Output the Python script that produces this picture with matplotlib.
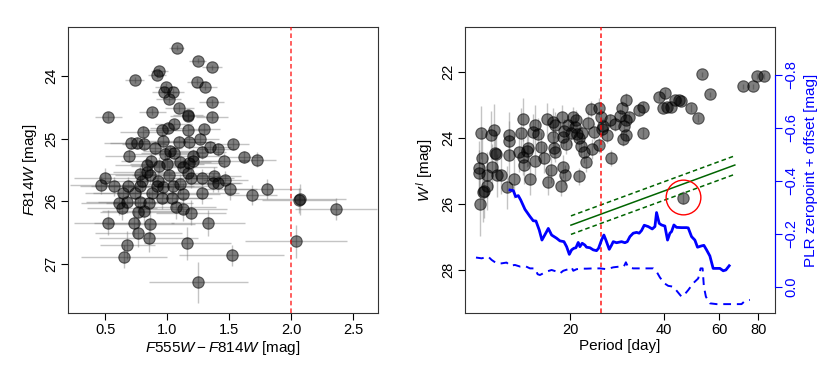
import numpy as np
import matplotlib
matplotlib.use("Agg")
import matplotlib.pyplot as plt
from matplotlib.ticker import NullLocator, FixedLocator, FixedFormatter

plt.rcParams["font.family"] = ["Liberation Sans", "DejaVu Sans"]
plt.rcParams["mathtext.fontset"] = "custom"
plt.rcParams["mathtext.it"] = "Liberation Sans:italic"
plt.rcParams["mathtext.rm"] = "Liberation Sans"

# --- left panel: colour-magnitude data ---
cmd_color = [1.078, 1.247, 1.363, 0.938, 0.917, 0.737, 1.239, 1.309, 0.989, 0.976,
             1.043, 1.013, 1.360, 0.879, 1.099, 1.169, 1.165, 0.524, 1.360, 1.054,
             1.005, 0.960, 1.298, 1.169, 0.801, 1.266, 0.970, 0.707, 0.817, 1.172,
             1.094, 1.527, 1.347, 1.406, 1.024, 1.051, 1.282, 0.696, 1.621, 1.728,
             1.462, 0.871, 0.836, 1.212, 1.172, 1.105, 0.997, 0.938, 0.782, 0.860,
             1.164, 1.016, 0.497, 1.379, 1.282, 1.194, 0.927, 1.470, 1.366, 0.465,
             0.573, 0.686, 0.777, 0.968, 1.048, 1.105, 1.406, 1.505, 1.806, 0.640,
             0.742, 0.876, 1.277, 1.685, 0.962, 1.126, 2.073, 2.065, 0.608, 0.677,
             0.782, 0.855, 0.637, 1.070, 1.126, 0.761, 0.817, 1.191, 2.360, 0.519,
             0.731, 0.863, 1.328, 0.766, 0.852, 1.161, 2.040, 0.680, 0.651, 1.519,
             1.250, 0.760, 0.985, 0.840, 0.920, 1.212, 1.130, 0.900, 1.040, 0.800]
cmd_mag = [23.55, 23.76, 23.86, 23.92, 23.99, 24.06, 24.09, 24.17, 24.17, 24.25,
           24.26, 24.37, 24.42, 24.57, 24.51, 24.63, 24.64, 24.65, 24.65, 24.77,
           24.83, 24.87, 24.84, 24.86, 24.89, 25.00, 25.04, 25.07, 25.08, 25.06,
           25.06, 25.09, 25.13, 25.17, 25.20, 25.23, 25.21, 25.27, 25.29, 25.34,
           25.35, 25.35, 25.42, 25.35, 25.39, 25.37, 25.40, 25.43, 25.56, 25.58,
           25.54, 25.58, 25.62, 25.59, 25.62, 25.63, 25.67, 25.66, 25.70, 25.74,
           25.76, 25.76, 25.75, 25.77, 25.76, 25.73, 25.70, 25.81, 25.80, 25.87,
           25.87, 25.87, 25.87, 25.90, 25.94, 25.88, 25.97, 25.98, 26.03, 26.01,
           26.01, 26.02, 26.10, 26.09, 26.12, 26.17, 26.16, 26.18, 26.12, 26.34,
           26.35, 26.36, 26.35, 26.50, 26.58, 26.67, 26.64, 26.70, 26.88, 26.86,
           27.29, 25.07, 25.24, 25.53, 25.76, 25.28, 25.46, 25.15, 25.95, 25.68]
cmd_xerr = [0.06, 0.07, 0.08, 0.07, 0.07, 0.08, 0.08, 0.09, 0.09, 0.10,
            0.09, 0.10, 0.10, 0.11, 0.12, 0.12, 0.14, 0.11, 0.13, 0.15,
            0.14, 0.15, 0.13, 0.16, 0.18, 0.15, 0.20, 0.22, 0.18, 0.21,
            0.24, 0.13, 0.17, 0.15, 0.22, 0.26, 0.19, 0.20, 0.14, 0.15,
            0.20, 0.24, 0.26, 0.22, 0.28, 0.25, 0.30, 0.23, 0.26, 0.28,
            0.25, 0.30, 0.25, 0.22, 0.26, 0.30, 0.24, 0.18, 0.22, 0.25,
            0.28, 0.30, 0.26, 0.32, 0.28, 0.26, 0.20, 0.22, 0.27, 0.30,
            0.34, 0.28, 0.30, 0.20, 0.32, 0.30, 0.37, 0.30, 0.30, 0.33,
            0.34, 0.35, 0.28, 0.32, 0.36, 0.30, 0.34, 0.28, 0.33, 0.27,
            0.32, 0.36, 0.30, 0.35, 0.40, 0.35, 0.41, 0.22, 0.35, 0.42,
            0.40, 0.22, 0.25, 0.28, 0.30, 0.24, 0.27, 0.22, 0.32, 0.29]
cmd_yerr = [0.04, 0.04, 0.04, 0.05, 0.05, 0.05, 0.05, 0.05, 0.05, 0.06,
            0.06, 0.06, 0.06, 0.06, 0.07, 0.07, 0.07, 0.07, 0.07, 0.08,
            0.08, 0.08, 0.08, 0.09, 0.09, 0.09, 0.09, 0.10, 0.10, 0.10,
            0.10, 0.09, 0.10, 0.10, 0.10, 0.11, 0.11, 0.11, 0.10, 0.12,
            0.12, 0.12, 0.12, 0.13, 0.13, 0.13, 0.13, 0.13, 0.14, 0.14,
            0.14, 0.14, 0.15, 0.14, 0.14, 0.15, 0.15, 0.14, 0.15, 0.15,
            0.15, 0.15, 0.16, 0.16, 0.16, 0.16, 0.15, 0.17, 0.16, 0.17,
            0.17, 0.17, 0.17, 0.16, 0.18, 0.17, 0.24, 0.20, 0.18, 0.18,
            0.18, 0.19, 0.19, 0.19, 0.20, 0.20, 0.20, 0.20, 0.18, 0.20,
            0.21, 0.21, 0.21, 0.22, 0.23, 0.26, 0.26, 0.22, 0.18, 0.17,
            0.33, 0.10, 0.11, 0.14, 0.15, 0.12, 0.13, 0.11, 0.17, 0.15]

# --- right panel: period-Wesenheit data ---
period = [10.28, 10.47, 10.62, 10.84, 10.23, 10.19, 10.42, 10.35, 10.84, 11.14,
          11.43, 11.48, 11.56, 11.27, 11.67, 11.97, 12.56, 12.76, 12.74, 12.74,
          13.24, 13.71, 13.87, 14.16, 14.09, 14.26, 14.59, 14.69, 14.89, 15.24,
          15.42, 15.42, 15.74, 16.11, 16.52, 16.79, 17.02, 17.30, 17.66, 17.66,
          17.74, 17.82, 18.75, 18.92, 18.97, 18.62, 19.05, 19.32, 19.72, 20.18,
          20.46, 20.80, 21.33, 21.63, 21.88, 22.39, 22.86, 23.39, 23.50, 23.88,
          24.72, 24.72, 25.06, 25.47, 26.30, 26.79, 26.98, 27.80, 28.84, 29.38,
          29.51, 29.79, 30.13, 30.27, 30.13, 30.90, 33.27, 34.28, 34.28, 38.55,
          40.18, 39.72, 40.83, 42.07, 43.25, 44.67, 45.19, 48.87, 51.40, 52.72,
          55.98, 71.61, 77.09, 79.43, 83.37, 46.0,
          25.2, 22.1, 17.88, 20.7, 21.0, 19.2, 21.4]
wes = [26.02, 25.66, 25.62, 25.45, 25.08, 24.91, 24.63, 23.85, 25.14, 23.93,
       23.78, 24.47, 24.51, 24.88, 25.14, 25.12, 25.50, 23.91, 24.09, 24.53,
       25.24, 24.44, 23.85, 23.44, 24.58, 24.84, 24.39, 24.31, 25.24, 23.84,
       23.62, 24.72, 23.90, 24.29, 24.63, 23.44, 25.33, 24.98, 23.54, 23.99,
       24.30, 24.45, 23.36, 23.99, 24.88, 25.46, 23.80, 24.20, 23.62, 23.87,
       23.36, 23.46, 25.17, 24.25, 23.85, 24.74, 23.55, 23.14, 24.35, 23.82,
       23.09, 24.22, 23.39, 23.66, 23.92, 23.48, 24.62, 23.59, 23.33, 23.09,
       24.05, 23.64, 23.46, 22.86, 23.92, 23.36, 23.16, 23.08, 23.85, 22.78,
       22.64, 23.11, 23.08, 23.08, 22.86, 22.86, 22.88, 23.10, 23.41, 22.08,
       22.69, 22.45, 22.45, 22.13, 22.13, 25.82,
       23.73, 24.42, 23.62, 23.67, 23.88, 25.13, 24.0]
wes_err = [0.95, 0.90, 0.80, 0.75, 0.70, 0.80, 0.85, 0.80, 0.70, 0.75,
           0.80, 0.65, 0.70, 0.70, 0.65, 0.60, 0.65, 0.70, 0.60, 0.65,
           0.60, 0.60, 0.75, 0.65, 0.55, 0.55, 0.50, 0.55, 0.50, 0.55,
           0.60, 0.45, 0.50, 0.45, 0.45, 0.50, 0.40, 0.40, 0.45, 0.40,
           0.35, 0.30, 0.35, 0.30, 0.35, 0.30, 0.35, 0.30, 0.30, 0.35,
           0.30, 0.30, 0.25, 0.30, 0.30, 0.30, 0.35, 0.25, 0.30, 0.25,
           0.30, 0.25, 0.25, 0.25, 0.25, 0.20, 0.25, 0.20, 0.20, 0.20,
           0.20, 0.20, 0.15, 0.20, 0.15, 0.15, 0.15, 0.15, 0.15, 0.12,
           0.12, 0.12, 0.12, 0.12, 0.10, 0.10, 0.10, 0.12, 0.12, 0.08,
           0.08, 0.08, 0.08, 0.08, 0.08, 0.20,
           0.30, 0.35, 0.40, 0.30, 0.30, 0.30, 0.35]

# PL relation fit (solid) with +-scatter (dashed)
plr_period = [20.1, 67.3]
plr_wes = [26.65, 24.83]
plr_scatter = 0.28

# zeropoint + offset curves (right axis)
zp_period = [12.82, 13.14, 13.37, 13.63, 13.87, 14.32, 14.86, 15.22, 15.53, 15.91,
             16.23, 16.80, 17.01, 17.43, 18.08, 18.53, 19.09, 19.47, 19.86, 20.20,
             20.54, 20.85, 21.21, 21.47, 21.84, 22.28, 22.55, 23.12, 23.69, 24.28,
             24.64, 25.19, 25.63, 26.01, 26.66, 27.12, 27.46, 28.14, 29.20, 29.92,
             30.45, 31.05, 31.82, 32.61, 33.25, 33.83, 34.51, 35.54, 36.61, 37.34,
             37.79, 38.54, 39.21, 40.18, 40.98, 41.70, 42.21, 42.95, 43.80, 45.44,
             47.15, 47.73, 48.92, 50.13, 51.12, 52.65, 53.58, 54.64, 55.99, 57.37,
             59.55, 60.29, 61.79, 63.01, 64.58]
zp_offset = [-0.365, -0.363, -0.340, -0.344, -0.328, -0.292, -0.265, -0.249, -0.248, -0.214,
             -0.176, -0.208, -0.220, -0.195, -0.183, -0.173, -0.170, -0.151, -0.122, -0.139,
             -0.145, -0.147, -0.167, -0.151, -0.164, -0.157, -0.149, -0.147, -0.139, -0.136,
             -0.145, -0.176, -0.195, -0.176, -0.141, -0.157, -0.170, -0.166, -0.170, -0.166,
             -0.170, -0.189, -0.202, -0.205, -0.202, -0.212, -0.232, -0.227, -0.218, -0.227,
             -0.280, -0.239, -0.233, -0.229, -0.176, -0.202, -0.208, -0.233, -0.224, -0.223,
             -0.223, -0.222, -0.189, -0.176, -0.149, -0.154, -0.156, -0.139, -0.116, -0.069,
             -0.069, -0.069, -0.060, -0.063, -0.079]
off_period = [9.98, 10.40, 10.93, 11.20, 11.62, 12.05, 12.51, 12.82, 13.30, 13.80,
              14.32, 14.86, 15.42, 15.72, 15.99, 16.80, 17.43, 18.08, 18.53, 18.99,
              19.71, 20.20, 20.45, 20.96, 21.74, 22.55, 23.69, 24.89, 26.15, 27.46,
              28.84, 29.70, 30.14, 30.67, 31.82, 33.42, 35.12, 36.87, 37.79, 38.73,
              39.99, 41.19, 42.74, 44.36, 45.44, 46.57, 47.73, 49.53, 51.39, 52.29,
              53.07, 53.58, 54.38, 55.99, 58.82, 61.79, 64.90, 68.17, 70.72, 72.49,
              75.21]
off_offset = [-0.110, -0.107, -0.113, -0.101, -0.088, -0.088, -0.091, -0.079, -0.082, -0.076,
              -0.078, -0.069, -0.069, -0.047, -0.044, -0.057, -0.063, -0.057, -0.050, -0.060,
              -0.066, -0.073, -0.060, -0.066, -0.068, -0.068, -0.069, -0.069, -0.066, -0.073,
              -0.076, -0.076, -0.092, -0.073, -0.069, -0.069, -0.069, -0.069, -0.057, -0.035,
              -0.013, -0.003, 0.000, 0.023, 0.038, 0.028, 0.013, -0.013, -0.031, -0.069,
              -0.069, 0.000, 0.038, 0.063, 0.066, 0.066, 0.066, 0.066, 0.066, 0.054,
              0.050]

circled_period = 46.0
circled_wes = 25.8

pt_face = (0, 0, 0, 0.5)
pt_edge = (0, 0, 0, 0.55)
err_col = (0.45, 0.45, 0.45, 0.42)

fig = plt.figure(figsize=(8.3, 3.69), dpi=100)
ax1 = fig.add_axes([0.0819, 0.1518, 0.3735, 0.775])
ax = fig.add_axes([0.5602, 0.1518, 0.3735, 0.775])

# --- left panel ---
ax1.errorbar(cmd_color, cmd_mag, xerr=cmd_xerr, yerr=cmd_yerr, fmt="none",
             ecolor=err_col, elinewidth=1.0, zorder=1)
ax1.plot(cmd_color, cmd_mag, "o", ms=8.2, mfc=pt_face, mec=pt_edge, mew=0.8, zorder=2)
ax1.axvline(2.0, color="red", ls=(0, (3, 2)), lw=1.1, alpha=0.8, zorder=3)
ax1.set_xlim(0.2, 2.7)
ax1.set_ylim(27.78, 23.22)
ax1.set_xticks([0.5, 1.0, 1.5, 2.0, 2.5])
ax1.set_yticks([24, 25, 26, 27])
ax1.set_xlabel(r"$F555W - F814W$ [mag]", fontsize=11, labelpad=2)
ax1.set_ylabel(r"$F814W$ [mag]", fontsize=11, labelpad=4)

# --- right panel ---
ax.errorbar(period, wes, yerr=wes_err, fmt="none", ecolor=err_col,
            elinewidth=1.0, zorder=1)
ax.plot(period, wes, "o", ms=8.2, mfc=pt_face, mec=pt_edge, mew=0.8, zorder=2)
ax.plot(plr_period, plr_wes, color="darkgreen", lw=1.1, zorder=3)
ax.plot(plr_period, [w - plr_scatter for w in plr_wes], color="darkgreen",
        lw=1.1, ls=(0, (3, 2)), zorder=3)
ax.plot(plr_period, [w + plr_scatter for w in plr_wes], color="darkgreen",
        lw=1.1, ls=(0, (3, 2)), zorder=3)
ax.plot(circled_period, circled_wes, "o", ms=25, mfc="none", mec="red", mew=1.0, zorder=4)
ax.axvline(25, color="red", ls=(0, (3, 2)), lw=1.1, alpha=0.9, zorder=3)
ax.set_xscale("log")
ax.set_xlim(9.2, 90.5)
ax.set_ylim(29.31, 20.65)
ax.xaxis.set_major_locator(FixedLocator([20, 40, 60, 80]))
ax.xaxis.set_major_formatter(FixedFormatter(["20", "40", "60", "80"]))
ax.xaxis.set_minor_locator(NullLocator())
ax.set_yticks([22, 24, 26, 28])
ax.set_xlabel("Period [day]", fontsize=11, labelpad=2)
ax.set_ylabel(r"$W^{\,I}$ [mag]", fontsize=11, labelpad=4)

ax2 = ax.twinx()
ax2.plot(zp_period, zp_offset, color="blue", lw=2.0)
ax2.plot(off_period, off_offset, color="blue", lw=1.4, ls=(0, (4, 3)))
ax2.set_ylim(0.0995, -0.981)
ax2.set_yticks([0.0, -0.2, -0.4, -0.6, -0.8])
ax2.set_yticklabels(["0.0", "\u22120.2", "\u22120.4", "\u22120.6", "\u22120.8"])
ax2.tick_params(axis="y", colors="blue", direction="out", length=5, labelsize=10.5, pad=2)
for lab in ax2.get_yticklabels():
    lab.set_rotation(90)
    lab.set_va("center")
for side in ["top", "bottom", "left"]:
    ax2.spines[side].set_visible(False)
ax2.spines["right"].set_bounds(-0.8, 0.0)
ax2.spines["right"].set_color("blue")
ax2.set_ylabel("PLR zeropoint + offset [mag]", color="blue", fontsize=11, labelpad=4)

for a in [ax1, ax]:
    a.tick_params(direction="out", length=5, labelsize=10.5, pad=2, color="black")
    for lab in a.get_yticklabels():
        lab.set_rotation(90)
        lab.set_va("center")
    for s in a.spines.values():
        s.set_linewidth(0.8)
        s.set_color("#333333")
    a.tick_params(axis="y", which="both", right=False)

fig.savefig("out.png", dpi=100)
